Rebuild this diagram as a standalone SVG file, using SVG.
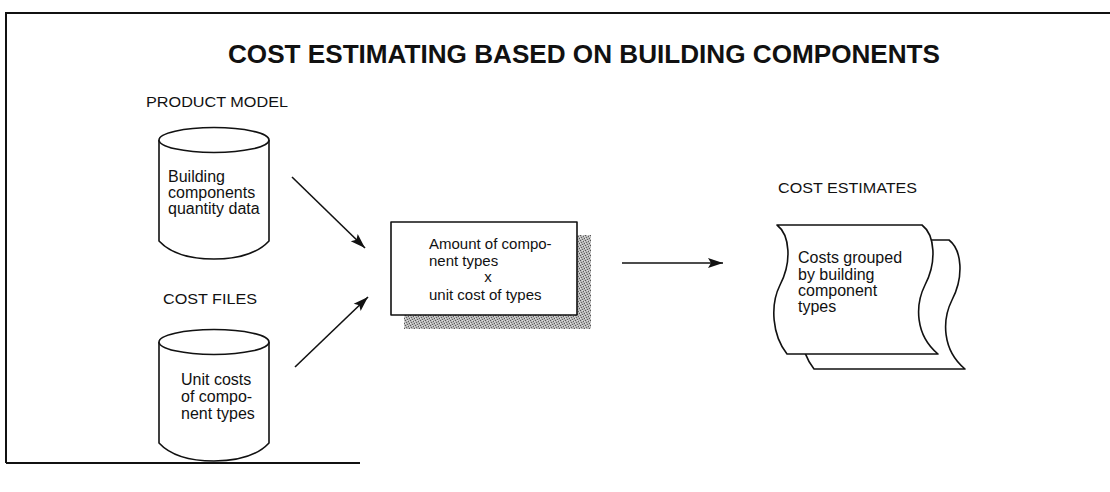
<svg xmlns="http://www.w3.org/2000/svg" width="1110" height="492" viewBox="0 0 1110 492">
  <style>
    .frame { fill: none; stroke: #111; stroke-width: 2; }
    .shape { fill: #fff; stroke: #111; stroke-width: 1.6; stroke-linejoin: round; }
    .edge { fill: none; stroke: #111; stroke-width: 1.6; }
    .title { font-family: "Liberation Sans", Arial, sans-serif; font-weight: bold; font-size: 26px; fill: #111; }
    .label { font-family: "Liberation Sans", Arial, sans-serif; font-size: 15px; fill: #111; }
    .body { font-family: "Liberation Sans", Arial, sans-serif; font-size: 16px; fill: #111; }
    .boxtext { font-family: "Liberation Sans", Arial, sans-serif; font-size: 15px; fill: #111; }
  </style>
  <defs>
    <marker id="arrow" markerWidth="16" markerHeight="12" refX="15" refY="6" orient="auto" markerUnits="userSpaceOnUse">
      <path d="M0,1 L15,6 L0,11 L3,6 Z" fill="#111"/>
    </marker>
    <!-- scattered-dot grey used for the drop shadow -->
    <pattern id="stipple" width="5" height="5" patternUnits="userSpaceOnUse">
      <rect width="5" height="5" fill="#b8b8b8"/>
      <rect x="0" y="0" width="1" height="1" fill="#555"/>
      <rect x="3" y="1" width="1" height="1" fill="#606060"/>
      <rect x="1" y="2" width="1" height="1" fill="#666"/>
      <rect x="4" y="3" width="1" height="1" fill="#555"/>
      <rect x="2" y="4" width="1" height="1" fill="#606060"/>
      <rect x="2" y="0" width="1" height="1" fill="#e0e0e0"/>
      <rect x="0" y="3" width="1" height="1" fill="#e6e6e6"/>
      <rect x="4" y="1" width="1" height="1" fill="#dcdcdc"/>
    </pattern>
    <!-- cylinder outline, origin at the top-left of the side walls -->
    <g id="cylinder">
      <path class="shape" d="M0,0 V101 C13,115 33,119 55,119 C77,119 97,115 110,101 V0"/>
      <ellipse class="shape" cx="55" cy="0" rx="55" ry="12.5"/>
    </g>
    <!-- wavy document sheet -->
    <path id="sheet" class="shape" d="M0,0 H145 C158,10 160,37 148,60 C138,80 138,110 161,129 H10 C-5,110 -7,80 3,60 C15,37 13,10 0,0 Z"/>
  </defs>

  <!-- page frame -->
  <g id="frame">
    <path class="frame" d="M6,463 V13 H1110"/>
    <path class="frame" d="M6,463 H360"/>
  </g>

  <text id="title" class="title" x="228" y="63" textLength="712" lengthAdjust="spacingAndGlyphs">COST ESTIMATING BASED ON BUILDING COMPONENTS</text>

  <!-- product model store -->
  <g id="product-model">
    <text class="label" x="146" y="107" textLength="142" lengthAdjust="spacingAndGlyphs">PRODUCT MODEL</text>
    <use href="#cylinder" x="159" y="140"/>
    <text class="body" x="168" y="182">Building</text>
    <text class="body" x="168" y="198">components</text>
    <text class="body" x="168" y="214">quantity data</text>
  </g>

  <!-- cost files store -->
  <g id="cost-files">
    <text class="label" x="163" y="304" textLength="94" lengthAdjust="spacingAndGlyphs">COST FILES</text>
    <use href="#cylinder" x="159" y="342"/>
    <text class="body" x="181" y="385">Unit costs</text>
    <text class="body" x="181" y="402">of compo-</text>
    <text class="body" x="181" y="419">nent types</text>
  </g>

  <!-- calculation process -->
  <g id="calculation">
    <rect x="404" y="235" width="187" height="94" fill="url(#stipple)"/>
    <rect class="shape" x="391" y="222" width="186" height="93"/>
    <text class="boxtext" x="429" y="249">Amount of compo-</text>
    <text class="boxtext" x="429" y="266">nent types</text>
    <text class="boxtext" x="488" y="282" text-anchor="middle">x</text>
    <text class="boxtext" x="429" y="300">unit cost of types</text>
  </g>

  <!-- cost estimate documents -->
  <g id="cost-estimates">
    <text class="label" x="778" y="193" textLength="139" lengthAdjust="spacingAndGlyphs">COST ESTIMATES</text>
    <use href="#sheet" transform="translate(804,240)"/>
    <use href="#sheet" transform="translate(777,225)"/>
    <text class="body" x="798" y="263">Costs grouped</text>
    <text class="body" x="798" y="280">by building</text>
    <text class="body" x="798" y="296">component</text>
    <text class="body" x="798" y="312">types</text>
  </g>

  <!-- flows -->
  <g id="connectors">
    <line class="edge" x1="292" y1="177" x2="365" y2="248" marker-end="url(#arrow)"/>
    <line class="edge" x1="295" y1="367" x2="368" y2="297" marker-end="url(#arrow)"/>
    <line class="edge" x1="622" y1="263" x2="723" y2="263" marker-end="url(#arrow)"/>
  </g>
</svg>
